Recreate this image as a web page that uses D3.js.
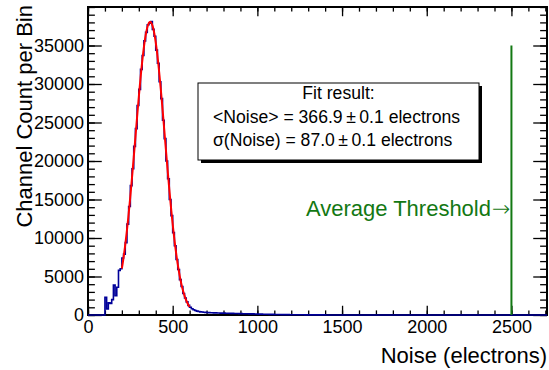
<!DOCTYPE html>
<html>
<head>
<meta charset="utf-8">
<script src="https://cdn.jsdelivr.net/npm/d3@7"></script>
<style>
  body { margin: 0; background: #fff; }
  svg { display: block; font-family: "Liberation Sans", Arial, sans-serif; }
</style>
</head>
<body>
<div id="chart-area"></div>
<script>
//============================DATA============================
// histogram: 10 electron bins, first listed bin starts at 100 e-, everything else is empty
var binWidth = 10;
var firstBin = 100;
var counts = [
  2300, 800, 1600, 1500, 2000, 3900, 2500, 3600, 5800, 6000,          // 100-190
  7400, 7900, 9400, 11800, 14100, 16800, 19000, 21900, 24200, 27200,  // 200-290
  29300, 31900, 33700, 35600, 36700, 37700, 37900, 38100, 37100, 36200, // 300-390
  34400, 32700, 30300, 28100, 25300, 22900, 20000, 17700, 15000, 12900, // 400-490
  10700, 9000, 7200, 5900, 4600, 3700, 2800, 2200, 1700, 1250,        // 500-590
  1000, 820, 680, 580, 500, 450, 410, 380, 360, 340,                  // 600-690
  320, 310, 300, 290, 280, 270, 265, 260, 250, 245,                   // 700-790
  240, 230, 225, 220, 210, 205, 200, 195, 190, 180,                   // 800-890
  175, 170, 165, 160, 155, 150, 145, 140, 135, 130,                   // 900-990
  120, 115, 110, 105, 100, 95, 90, 85, 80, 75,                        // 1000-1090
  70, 66, 62, 58, 55, 52, 49, 46, 43, 40,                             // 1100-1190
  38, 36, 34, 32, 30, 28, 26, 24, 22, 20,                             // 1200-1290
  19, 18, 17, 16, 15, 14, 13, 12, 11, 10                              // 1300-1390
];
var xRange = [0, 2710];
var yRange = [0, 40000];
var xMajorTicks = [0, 500, 1000, 1500, 2000, 2500];
var yMajorTicks = [0, 5000, 10000, 15000, 20000, 25000, 30000, 35000];

// gaussian fit
var fitConstant = 38050;
var fitMean = 366.9;
var fitSigma = 87.0;
var fitRange = [200, 600];
var fitLines = ["Fit result:",
  "<Noise> = 366.9\u2009\u00b1\u20090.1 electrons",
  "\u03c3(Noise) = 87.0\u2009\u00b1\u20090.1 electrons"];

var threshold = 2500;
var thresholdTop = 35000;

//============================LAYOUT============================
var margins = { left: 88, right: 2, top: 7, bottom: 55 };
var width = 549 - margins.left - margins.right;
var height = 370 - margins.top - margins.bottom;

var svg = d3.select("#chart-area")
    .append("svg")
    .attr("width", 549)
    .attr("height", 370);

var g = svg.append("g")
    .attr("transform", "translate(" + margins.left + ", " + margins.top + ")");

var x = d3.scaleLinear().domain(xRange).range([0, width]);
var y = d3.scaleLinear().domain(yRange).range([height, 0]);

var xMinor = d3.range(xRange[0], xRange[1] + 1, 100);
var yMinor = d3.range(yRange[0], yRange[1] + 1, 1000);

// ticks point inward on all four sides, ROOT style
var xTickLen = 0.03 * height, yTickLen = 0.03 * width;

function tickAxis(axis, transform) {
    var a = g.append("g").attr("class", "axis").attr("transform", transform || null).call(axis);
    a.select(".domain").remove();
    a.selectAll("line").attr("stroke", "#000").attr("stroke-width", 1.3);
    return a;
}

tickAxis(d3.axisBottom(x).tickValues(xMajorTicks).tickSize(-xTickLen).tickPadding(5)
    .tickFormat(d3.format("d")), "translate(0," + height + ")");
tickAxis(d3.axisBottom(x).tickValues(xMinor).tickSize(-xTickLen / 2).tickFormat(""), "translate(0," + height + ")");
tickAxis(d3.axisTop(x).tickValues(xMajorTicks).tickSize(-xTickLen).tickFormat(""));
tickAxis(d3.axisTop(x).tickValues(xMinor).tickSize(-xTickLen / 2).tickFormat(""));

tickAxis(d3.axisLeft(y).tickValues(yMajorTicks).tickSize(-yTickLen).tickPadding(4)
    .tickFormat(d3.format("d")));
tickAxis(d3.axisLeft(y).tickValues(yMinor).tickSize(-yTickLen / 2).tickFormat(""));
tickAxis(d3.axisRight(y).tickValues(yMajorTicks).tickSize(-yTickLen).tickFormat(""), "translate(" + width + ",0)");
tickAxis(d3.axisRight(y).tickValues(yMinor).tickSize(-yTickLen / 2).tickFormat(""), "translate(" + width + ",0)");

g.selectAll(".axis text")
    .attr("font-family", "Liberation Sans, Arial, sans-serif")
    .attr("font-size", "18px")
    .attr("fill", "#000");

// frame
g.append("rect")
    .attr("width", width)
    .attr("height", height)
    .attr("fill", "none")
    .attr("stroke", "#000")
    .attr("stroke-width", 2);

// axis titles
svg.append("text")
    .attr("x", 547)
    .attr("y", 363)
    .attr("text-anchor", "end")
    .attr("font-size", "22px")
    .text("Noise (electrons)");

svg.append("text")
    .attr("transform", "translate(32,5) rotate(-90)")
    .attr("text-anchor", "end")
    .attr("font-size", "22px")
    .text("Channel Count per Bin");

//============================HISTOGRAM============================
var steps = [{ x: xRange[0], c: 0 }];
counts.forEach(function(c, i) {
    steps.push({ x: firstBin + i * binWidth, c: c });
});
steps.push({ x: firstBin + counts.length * binWidth, c: 0 });
steps.push({ x: xRange[1], c: 0 });

var stepLine = d3.line()
    .x(function(d) { return x(d.x); })
    .y(function(d) { return y(d.c); })
    .curve(d3.curveStepAfter);

g.append("path")
    .datum(steps)
    .attr("fill", "none")
    .attr("stroke", "#000099")
    .attr("stroke-width", 1.6)
    .attr("d", stepLine);

// fit function
var fitPts = d3.range(fitRange[0], fitRange[1] + 1, 2).map(function(v) {
    return { x: v, c: fitConstant * Math.exp(-Math.pow(v - fitMean, 2) / (2 * fitSigma * fitSigma)) };
});
g.append("path")
    .datum(fitPts)
    .attr("fill", "none")
    .attr("stroke", "#ff0000")
    .attr("stroke-width", 2)
    .attr("d", d3.line().x(function(d) { return x(d.x); }).y(function(d) { return y(d.c); }));

//============================THRESHOLD============================
g.append("line")
    .attr("x1", x(threshold)).attr("x2", x(threshold))
    .attr("y1", y(0)).attr("y2", y(thresholdTop))
    .attr("stroke", "#137813")
    .attr("stroke-width", 2);

var thr = g.append("text")
    .attr("x", x(threshold) - 1)
    .attr("y", 209)
    .attr("text-anchor", "end")
    .attr("font-size", "22px")
    .attr("fill", "#137813");
thr.append("tspan").text("Average Threshold");
thr.append("tspan")
    .attr("font-family", "DejaVu Sans")
    .attr("font-weight", "200")
    .attr("dx", 1)
    .text("\u2192");

//============================FIT BOX============================
var box = { x: 198, y: 83, w: 281, h: 77 };
svg.append("rect")
    .attr("x", box.x + 3).attr("y", box.y + 3)
    .attr("width", box.w).attr("height", box.h)
    .attr("fill", "#000");
svg.append("rect")
    .attr("x", box.x).attr("y", box.y)
    .attr("width", box.w).attr("height", box.h)
    .attr("fill", "#fff")
    .attr("stroke", "#000")
    .attr("stroke-width", 1);

svg.selectAll(".fitline")
    .data(fitLines)
    .enter()
    .append("text")
    .attr("class", "fitline")
    .attr("x", function(d, i) { return i === 0 ? box.x + box.w / 2 : 213; })
    .attr("y", function(d, i) { return 99 + i * 23.5; })
    .attr("text-anchor", function(d, i) { return i === 0 ? "middle" : "start"; })
    .attr("font-size", "17.6px")
    .text(function(d) { return d; });
</script>
</body>
</html>
